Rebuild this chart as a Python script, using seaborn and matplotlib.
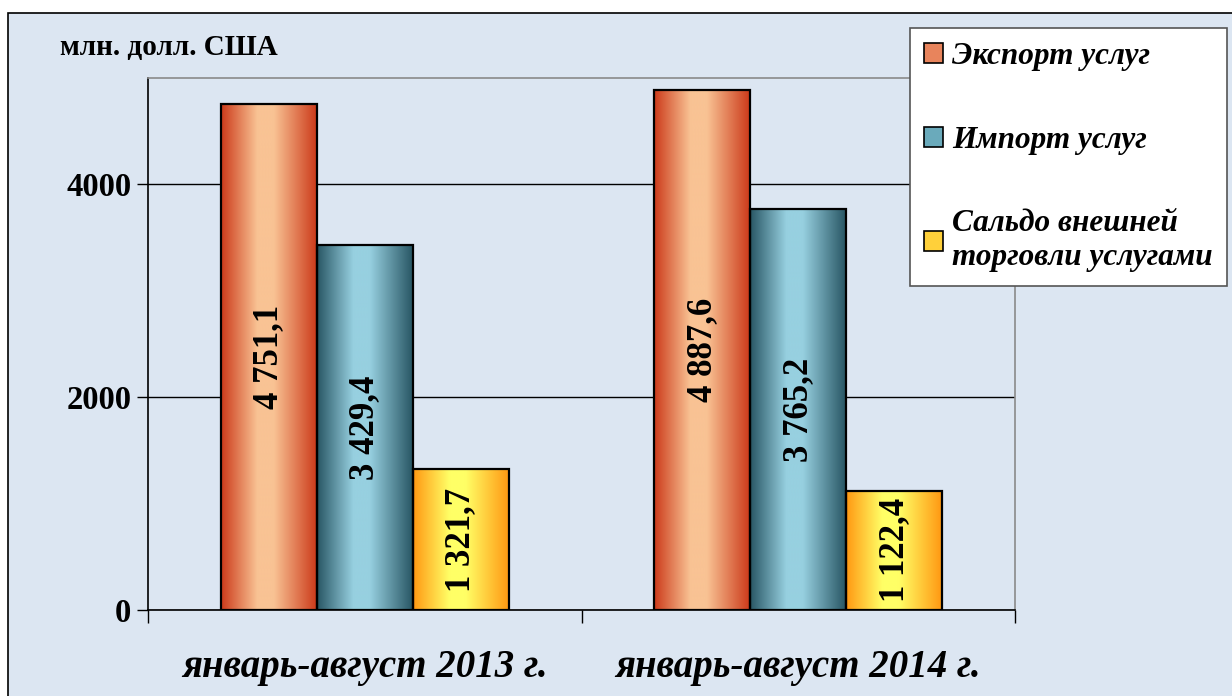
import numpy as np
import pandas as pd
import seaborn as sns
import matplotlib.pyplot as plt
from matplotlib.patches import Rectangle, Patch
from matplotlib.colors import LinearSegmentedColormap

periods = ["январь-август 2013 г.", "январь-август 2014 г."]
series = ["Экспорт услуг", "Импорт услуг", "Сальдо внешней\nторговли услугами"]
export_vals = [4751.1, 4887.6]
import_vals = [3429.4, 3765.2]
saldo_vals = [1321.7, 1122.4]

# edge / centre colours of the bar gradients
edge_colors = ["#cc3a1a", "#285664", "#ff9812"]
center_colors = ["#f9c394", "#97d0e0", "#ffff66"]
legend_colors = ["#e8845c", "#6aaabb", "#ffd03a"]

df = pd.DataFrame({
    "period": periods * 3,
    "series": [s for s in series for _ in periods],
    "value": export_vals + import_vals + saldo_vals,
})

bg = "#dce6f2"
sns.set_theme(style="white")
plt.rcParams["font.family"] = ["Liberation Serif", "DejaVu Serif"]
plt.rcParams["text.color"] = "black"
plt.rcParams["xtick.color"] = "black"
plt.rcParams["ytick.color"] = "black"

fig = plt.figure(figsize=(12.32, 6.96), dpi=100, facecolor="white")
fig.patches.append(Rectangle((8 / 1232, -0.01), 1.0, 1 - 13 / 696 + 0.01,
                             transform=fig.transFigure, facecolor=bg,
                             edgecolor="black", linewidth=1.2, zorder=-10))
ax = fig.add_axes([148 / 1232, 1 - 610 / 696, (1015 - 148) / 1232, (610 - 78) / 696])
ax.set_facecolor(bg)

sns.barplot(data=df, x="period", y="value", hue="series", order=periods,
            hue_order=series, width=0.664, ax=ax, legend=False,
            edgecolor="black", linewidth=1.6, saturation=1)

for i, container in enumerate(ax.containers):
    e, c = edge_colors[i], center_colors[i]
    cmap = LinearSegmentedColormap.from_list(
        "g", [(0, e), (0.38, c), (0.55, c), (1, e)])
    grad = np.linspace(0, 1, 256).reshape(1, -1)
    for bar, v in zip(container.patches, df[df.series == series[i]].value):
        x0 = bar.get_x()
        w = bar.get_width()
        ax.imshow(grad, cmap=cmap, extent=(x0, x0 + w, 0, bar.get_height()),
                  aspect="auto", zorder=bar.get_zorder() - 0.1, interpolation="bicubic")
        bar.set_facecolor("none")
        label = f"{v:,.1f}".replace(",", " ").replace(".", ",")
        ax.text(x0 + w / 2, bar.get_height() / 2, label, rotation=90,
                ha="center", va="center", fontsize=25, fontweight="bold",
                color="black", zorder=5)

ax.set_xlim(-0.5, 1.5)
ax.set_ylim(0, 5000)
ax.set_yticks([0, 2000, 4000])
ax.set_yticklabels(["0", "2000", "4000"], fontsize=23.5, fontweight="bold")
ax.yaxis.grid(True, color="black", linewidth=1)
ax.set_axisbelow(True)
ax.tick_params(axis="y", which="major", direction="out", length=8, width=1,
               color="black", left=True, pad=4)
ax.set_xticks([0, 1])
ax.set_xticklabels(periods, fontsize=28, fontweight="bold", style="italic")
ax.set_xticks([-0.5, 0.5, 1.5], minor=True)
ax.tick_params(axis="x", which="major", length=0, pad=28)
ax.tick_params(axis="x", which="minor", direction="out", length=9, width=1,
               color="black", bottom=True)
ax.set_xlabel("")
ax.set_ylabel("")

for side in ["left", "bottom"]:
    ax.spines[side].set_color("black")
    ax.spines[side].set_linewidth(1.2)
for side in ["top", "right"]:
    ax.spines[side].set_color("#8a8a8a")
    ax.spines[side].set_linewidth(1.2)

fig.text(60 / 1232, 1 - 47 / 696, "млн. долл. США", fontsize=21,
         fontweight="bold", ha="left", va="center")

handles = [Patch(facecolor=c, edgecolor="black", linewidth=1.2) for c in legend_colors]
leg = fig.legend(handles, series, loc="upper left",
                 bbox_to_anchor=(910 / 1232, 1 - 28 / 696),
                 bbox_transform=fig.transFigure, borderaxespad=0,
                 frameon=True, fancybox=False, handlelength=0.6,
                 handleheight=0.6, handletextpad=0.3, labelspacing=1.75,
                 borderpad=0.45,
                 prop={"size": 22.5, "weight": "bold", "style": "italic"})
leg.get_frame().set_edgecolor("#555555")
leg.get_frame().set_facecolor("white")
leg.get_frame().set_linewidth(1.2)
leg.get_frame().set_alpha(1)

fig.savefig("out.png", dpi=100, facecolor="white")
